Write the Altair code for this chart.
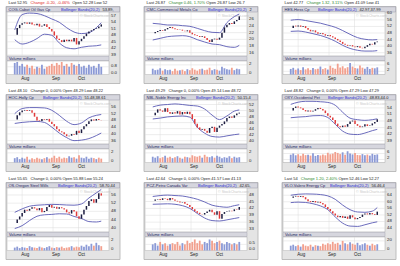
import altair as alt
import pandas as pd

FONT = "Liberation Sans"

# ---------------- header / title texts ----------------
names = ["COG-Cabot Oil Gas Cp", "CMC-Commercial Metals Co", "HES-Hess Cp",
         "HOC-Holly Cp", "NBL-Noble Energy Inc", "OXY-Occidental Pet",
         "OS-Oregon Steel Mills", "PCZ-Petro Canada Var", "VLO-Valero Energy Cp"]
last_px = ["52.95", "26.87", "42.77", "48.10", "49.29", "48.82", "55.65", "42.64", "54"]
change_abs = [-0.20, 0.46, 1.32, 0, 0, 0, 0, 0, 1.20]
change_pct = [-0.46, 1.70, 3.11, 0.00, 0.00, 0.00, 0.00, 0.00, 2.40]
open_px = ["52.28", "26.87", "41.09", "48.29", "49.14", "47.29", "55.88", "41.57", "52.46"]
low_px = ["52", "26.7", "41", "48.22", "48.72", "47.29", "55.24", "41.13", "52.27"]
bb_values = ["53.89,", "2", "42.97,37.99", "51.48,38.61", "50.15,4", "48.83,44.0",
             "58.70,44", "42.65,", "56.46,4"]

# ---------------- common x positions ----------------
day_idx = list(range(36))
band_idx = [0, 3, 6, 9, 12, 15, 18, 21, 24, 27, 30, 33, 35]
month_names = ["Aug", "Sep", "Oct"]
month_idx = [3.0, 15.5, 25.8]

# ---------------- COG ----------------
close_cog = [48.3, 51.3, 52.8, 53.5, 53.9, 53.3, 53.9, 53.0, 52.6, 53.3, 52.0, 52.4,
             53.1, 51.8, 50.9, 49.8, 47.9, 46.4, 45.8, 44.9, 46.0, 45.3, 46.0, 45.2,
             46.8, 43.8, 45.3, 46.4, 47.6, 48.8, 49.8, 50.3, 50.9, 51.2, 52.0, 53.0]
upper_cog = [50.5, 57.5, 58.2, 58.0, 57.0, 55.5, 54.0, 51.5, 49.5, 48.8, 49.2, 51.5, 53.8]
lower_cog = [46.0, 44.0, 44.8, 46.5, 48.5, 48.0, 44.5, 42.3, 41.8, 42.5, 43.0, 43.2, 43.6]
vol_cog = [1.2, 1.3, 0.9, 1.1, 0.8, 1.0, 0.7, 0.9, 0.6, 0.8, 0.7, 1.0, 0.6, 0.8, 0.9, 1.1,
           0.9, 1.2, 1.0, 1.3, 0.9, 1.1, 0.8, 1.2, 1.0, 0.9, 1.1, 0.8, 0.9, 0.7, 1.0, 0.8,
           0.9, 0.7, 1.1, 0.8]
ticks_cog = [39, 42, 45, 48, 51, 54, 57]
dom_cog = [38.5, 58.7]
vticks_cog = [0, 0.8]
vlabels_cog = ["0.0", "0.8"]
vdom_cog = [0, 1.4]

# ---------------- CMC ----------------
close_cmc = [21.8, 22.2, 22.5, 22.8, 22.6, 23.0, 23.4, 23.7, 23.3, 23.0, 22.8, 22.9,
             22.6, 22.4, 22.7, 22.0, 21.5, 21.2, 21.0, 20.7, 20.9, 20.4, 19.8, 19.2,
             20.0, 20.2, 19.9, 20.5, 22.0, 23.6, 24.4, 24.9, 24.6, 25.4, 25.8, 26.9]
upper_cmc = [24.8, 24.6, 24.3, 24.3, 24.1, 23.9, 23.3, 22.6, 22.1, 22.0, 25.0, 26.8, 27.6]
lower_cmc = [19.8, 20.3, 20.8, 21.0, 21.1, 20.8, 19.9, 19.2, 18.6, 18.4, 17.8, 17.6, 18.2]
vol_cmc = [1.2, 0.9, 1.0, 1.3, 0.8, 1.1, 0.9, 1.0, 0.7, 1.2, 0.8, 0.9, 1.0, 0.7, 1.1, 0.9,
           1.3, 1.0, 0.8, 1.1, 1.2, 0.9, 1.0, 1.4, 0.9, 1.1, 1.0, 0.8, 1.6, 1.3, 1.1, 1.0,
           1.4, 0.9, 1.2, 1.1]
ticks_cmc = [16, 18, 20, 22, 24, 26]
dom_cmc = [15.0, 28.2]
vticks_cmc = [0, 2]
vlabels_cmc = ["0", "2"]
vdom_cmc = [0, 2.8]

# ---------------- HES ----------------
close_hes = [51.0, 52.5, 52.0, 52.6, 51.8, 52.2, 51.0, 50.0, 49.0, 49.6, 48.4, 47.6,
             48.0, 47.3, 46.4, 46.8, 46.0, 45.2, 44.4, 43.5, 42.6, 41.4, 40.8, 40.2,
             40.6, 39.8, 39.4, 40.0, 39.0, 38.7, 39.6, 40.6, 41.4, 41.0, 42.4, 42.8]
upper_hes = [55.8, 56.2, 55.6, 54.8, 54.0, 52.8, 51.5, 49.5, 47.2, 45.2, 44.2, 43.8, 44.0]
lower_hes = [49.0, 49.2, 48.6, 47.6, 46.5, 45.0, 43.0, 40.5, 38.6, 37.5, 37.0, 37.0, 37.3]
vol_hes = [3.5, 4.2, 3.0, 3.8, 2.8, 4.5, 3.2, 3.9, 2.9, 4.1, 3.3, 3.6, 5.0, 3.4, 4.0, 3.1,
           5.5, 4.2, 3.6, 6.8, 4.4, 5.2, 3.9, 4.6, 7.2, 5.0, 4.1, 3.8, 5.6, 4.3, 3.6, 4.8,
           3.5, 4.2, 3.9, 4.5]
ticks_hes = [36, 40, 44, 48, 52, 56, 60]
dom_hes = [34.0, 60.8]
vticks_hes = [2, 6]
vlabels_hes = ["2", "6"]
vdom_hes = [0, 8.5]

# ---------------- HOC ----------------
close_hoc = [48.6, 51.0, 52.8, 53.8, 54.2, 53.6, 54.0, 52.5, 50.2, 48.0, 47.6, 48.8,
             48.4, 48.9, 47.2, 45.8, 44.5, 42.8, 41.5, 40.9, 39.8, 38.6, 38.9, 39.9,
             39.5, 41.8, 40.5, 42.7, 44.5, 45.8, 47.5, 48.6, 47.9, 48.8, 48.2, 48.1]
upper_hoc = [52.0, 55.0, 55.6, 55.6, 55.4, 54.0, 51.0, 47.5, 45.5, 46.5, 49.5, 51.0, 51.5]
lower_hoc = [46.2, 46.8, 47.2, 47.4, 46.8, 44.0, 40.5, 37.8, 36.0, 36.3, 37.2, 39.0, 40.5]
vol_hoc = [0.9, 1.1, 0.7, 1.0, 0.8, 1.2, 0.6, 0.9, 0.7, 1.0, 0.8, 0.7, 0.9, 1.1, 0.8, 1.0,
           1.4, 0.9, 1.2, 0.8, 1.0, 0.9, 1.3, 1.0, 1.1, 0.8, 1.5, 1.0, 0.9, 1.2, 0.8, 1.0,
           0.9, 0.7, 1.0, 0.8]
ticks_hoc = [36, 40, 44, 48, 52, 56]
dom_hoc = [34.0, 60.1]
vticks_hoc = [0, 2]
vlabels_hoc = ["0", "2"]
vdom_hoc = [0, 2.8]

# ---------------- NBL ----------------
close_nbl = [48.4, 49.3, 50.4, 50.0, 49.6, 50.8, 49.5, 48.9, 49.4, 49.0, 49.8, 48.7,
             49.5, 48.9, 49.6, 48.8, 47.2, 45.6, 44.4, 43.6, 43.9, 43.3, 42.6, 44.2,
             44.6, 42.9, 44.3, 45.0, 45.5, 46.4, 47.5, 48.0, 47.6, 48.4, 49.0, 49.3]
upper_nbl = [51.2, 51.8, 52.0, 52.2, 52.0, 51.7, 51.5, 50.5, 48.5, 47.0, 48.2, 49.8, 50.2]
lower_nbl = [47.2, 47.5, 47.9, 48.1, 48.2, 47.8, 44.5, 42.5, 41.4, 41.2, 41.6, 42.0, 42.2]
vol_nbl = [1.2, 1.0, 1.3, 0.9, 1.1, 1.4, 1.0, 1.2, 0.9, 1.1, 1.3, 1.0, 0.8, 1.2, 1.1, 1.0,
           1.5, 1.3, 1.2, 1.4, 1.0, 1.6, 1.2, 1.1, 1.3, 1.0, 1.4, 1.2, 0.9, 1.1, 1.0, 1.3,
           0.9, 1.2, 1.0, 1.1]
ticks_nbl = [40, 42, 44, 46, 48, 50, 52]
dom_nbl = [38.9, 53.5]
vticks_nbl = [0, 2]
vlabels_nbl = ["0", "2"]
vdom_nbl = [0, 2.8]

# ---------------- OXY ----------------
close_oxy = [52.8, 54.0, 54.6, 54.2, 53.8, 53.0, 52.4, 52.8, 52.3, 52.7, 53.4, 54.0,
             53.5, 52.8, 51.6, 50.4, 49.6, 48.5, 46.8, 45.6, 45.2, 45.9, 45.4, 46.6,
             47.8, 48.2, 46.6, 45.8, 45.2, 45.5, 46.5, 45.7, 46.0, 46.9, 47.6, 48.8]
upper_oxy = [55.6, 56.6, 57.0, 57.0, 56.8, 56.5, 55.2, 52.0, 49.3, 48.6, 48.3, 48.6, 49.0]
lower_oxy = [49.5, 49.8, 50.0, 50.4, 50.5, 49.6, 46.5, 43.4, 42.0, 41.8, 42.5, 43.6, 44.2]
vol_oxy = [5.2, 6.0, 4.8, 5.5, 4.5, 5.8, 4.9, 5.1, 4.6, 6.2, 4.4, 5.0, 4.7, 5.3, 4.8, 6.5,
           5.5, 5.9, 7.0, 6.4, 5.6, 6.8, 5.2, 7.5, 6.0, 5.4, 6.3, 5.0, 4.8, 5.6, 4.9, 5.3,
           4.6, 5.8, 5.1, 5.4]
ticks_oxy = [39, 42, 45, 48, 51, 54]
dom_oxy = [37.5, 57.6]
vticks_oxy = [2, 6]
vlabels_oxy = ["2", "6"]
vdom_oxy = [0, 9.0]

# ---------------- OS ----------------
close_os = [42.3, 44.0, 45.5, 47.2, 48.8, 48.3, 49.2, 50.0, 49.4, 48.5, 49.6, 47.6,
            48.2, 50.1, 51.1, 49.8, 50.2, 49.3, 50.0, 49.5, 48.9, 47.5, 46.9, 48.6,
            47.9, 45.6, 44.4, 46.5, 48.8, 50.6, 53.0, 53.9, 52.2, 54.0, 56.8, 55.7]
upper_os = [47.5, 49.2, 50.5, 51.0, 51.2, 51.4, 51.3, 51.1, 51.0, 51.6, 54.5, 57.0, 58.7]
lower_os = [39.6, 41.0, 43.5, 45.6, 46.3, 46.5, 46.8, 46.7, 45.5, 44.5, 43.0, 42.8, 43.2]
vol_os = [0.6, 0.8, 0.5, 0.7, 0.6, 0.5, 0.9, 0.7, 0.6, 0.5, 0.8, 0.6, 0.5, 0.7, 0.9, 0.6,
          0.5, 0.7, 0.6, 0.8, 0.5, 0.6, 0.7, 0.9, 0.6, 0.8, 0.7, 1.0, 0.8, 1.2, 0.9, 1.4,
          1.0, 1.6, 1.1, 0.9]
ticks_os = [40, 44, 48, 52, 56]
dom_os = [37.9, 59.4]
vticks_os = [0, 2]
vlabels_os = ["0", "2"]
vdom_os = [0, 2.8]

# ---------------- PCZ ----------------
close_pcz = [45.3, 45.9, 46.1, 45.7, 46.4, 46.2, 45.6, 46.5, 45.9, 45.3, 45.0, 44.6,
             44.8, 44.0, 43.5, 42.6, 41.6, 40.8, 40.1, 39.5, 39.3, 40.0, 40.6, 41.4,
             40.3, 39.2, 40.8, 37.5, 39.6, 40.4, 40.7, 41.0, 40.8, 41.6, 41.4, 42.6]
upper_pcz = [47.2, 47.6, 47.8, 47.6, 47.4, 46.8, 46.0, 44.8, 43.4, 42.8, 42.5, 43.2, 43.6]
lower_pcz = [43.8, 43.9, 44.0, 43.8, 43.2, 42.0, 39.8, 37.8, 36.7, 36.5, 37.0, 37.6, 38.0]
vol_pcz = [0.5, 0.6, 0.4, 0.7, 0.5, 0.6, 0.4, 0.5, 0.6, 0.5, 0.7, 0.4, 0.6, 0.5, 0.8, 0.6,
           0.7, 0.9, 0.6, 0.8, 0.5, 0.7, 0.6, 0.9, 0.8, 0.6, 0.7, 0.8, 0.6, 0.5, 0.7, 0.6,
           0.5, 0.6, 0.5, 0.7]
ticks_pcz = [33, 36, 39, 42, 45, 48]
dom_pcz = [31.7, 50.9]
vticks_pcz = [0, 0.5]
vlabels_pcz = ["0.0", "0.5"]
vdom_pcz = [0, 1.1]

# ---------------- VLO ----------------
close_vlo = [62.4, 63.2, 63.6, 63.0, 63.5, 62.8, 61.5, 60.4, 59.8, 60.5, 59.6, 60.0,
             59.2, 58.4, 56.8, 55.6, 54.3, 52.9, 51.6, 50.6, 51.4, 50.2, 51.0, 49.6,
             51.8, 50.5, 49.4, 50.1, 50.8, 52.2, 52.9, 52.3, 53.1, 52.4, 52.0, 54.0]
upper_vlo = [64.0, 64.6, 64.8, 64.7, 64.4, 63.6, 61.5, 58.0, 55.2, 53.8, 53.6, 54.3, 56.5]
lower_vlo = [59.5, 59.8, 59.6, 58.8, 57.5, 55.2, 50.8, 47.0, 45.2, 45.0, 46.0, 47.2, 47.8]
vol_vlo = [10, 12, 9, 11, 8, 13, 10, 9, 12, 8, 11, 10, 9, 14, 12, 15, 13, 18, 14, 16,
           12, 20, 15, 13, 17, 14, 12, 16, 11, 13, 15, 12, 10, 14, 11, 13]
ticks_vlo = [44, 48, 52, 56, 60, 64]
dom_vlo = [41.6, 68.4]
vticks_vlo = [0, 20]
vlabels_vlo = ["0", "20"]
vdom_vlo = [0, 28]

series = [
    (close_cog, upper_cog, lower_cog, vol_cog, ticks_cog, dom_cog, vticks_cog, vlabels_cog, vdom_cog),
    (close_cmc, upper_cmc, lower_cmc, vol_cmc, ticks_cmc, dom_cmc, vticks_cmc, vlabels_cmc, vdom_cmc),
    (close_hes, upper_hes, lower_hes, vol_hes, ticks_hes, dom_hes, vticks_hes, vlabels_hes, vdom_hes),
    (close_hoc, upper_hoc, lower_hoc, vol_hoc, ticks_hoc, dom_hoc, vticks_hoc, vlabels_hoc, vdom_hoc),
    (close_nbl, upper_nbl, lower_nbl, vol_nbl, ticks_nbl, dom_nbl, vticks_nbl, vlabels_nbl, vdom_nbl),
    (close_oxy, upper_oxy, lower_oxy, vol_oxy, ticks_oxy, dom_oxy, vticks_oxy, vlabels_oxy, vdom_oxy),
    (close_os, upper_os, lower_os, vol_os, ticks_os, dom_os, vticks_os, vlabels_os, vdom_os),
    (close_pcz, upper_pcz, lower_pcz, vol_pcz, ticks_pcz, dom_pcz, vticks_pcz, vlabels_pcz, vdom_pcz),
    (close_vlo, upper_vlo, lower_vlo, vol_vlo, ticks_vlo, dom_vlo, vticks_vlo, vlabels_vlo, vdom_vlo),
]

# ---------------- layout / style ----------------
W, H = 114, 84
PLOT_X0, PLOT_X1 = 1, 103
DATA_X = [2.5, 101.5]
PY_TOP, PY_BOT = 12, 56
VY_TOP, VY_BOT = 61, 74.5
BB_X = [55, 64, 36, 37, 52, 46, 52, 54, 48]

FRAME_FILL, FRAME_STROKE = "#e4e4e4", "#b0b0b0"
BAR_FILL, BAR_STROKE = "#d6d6de", "#9a9aa8"
GRID = "#dadada"
BAND = "#5a5ab4"
C_UP, C_DOWN = "#1c1c40", "#e03a3a"
V_UP, V_DOWN = "#8c9ad6", "#f2a08e"
TXT = "#222222"
T_NAME = "#1c1c60"
T_BB = "#2b2bd0"
T_POS, T_NEG = "#2f8a2f", "#e02828"
CW, GAP = 1.95, 2.6

one = pd.DataFrame({"a": [0]})


def box(x, x2, y, y2, fill, stroke=None, sw=0.6):
    kw = {"fill": fill}
    if stroke:
        kw.update(stroke=stroke, strokeWidth=sw)
    return alt.Chart(one).mark_rect(**kw).encode(
        x=alt.value(x), x2=alt.value(x2), y=alt.value(y), y2=alt.value(y2))


def text_at(t, x, y, color, size=4.0):
    return alt.Chart(one).mark_text(text=t, align="left", baseline="middle", fontSize=size,
                                    color=color, font=FONT).encode(x=alt.value(x), y=alt.value(y))


def panel(k):
    close, upper, lower, vol, pticks, pdom, vticks, vlabels, vdom = series[k]
    opens = [close[0]] + close[:-1]
    df = pd.DataFrame({"i": day_idx, "open": opens, "close": close, "vol": vol})
    df["dir"] = ["up" if c >= o else "down" for o, c in zip(opens, close)]
    bands = pd.DataFrame({"i": band_idx + band_idx, "v": upper + lower,
                          "band": ["upper"] * len(upper) + ["lower"] * len(lower)})
    ptk = pd.DataFrame({"t": pticks, "label": [str(t) for t in pticks]})
    vtk = pd.DataFrame({"t": vticks, "label": vlabels})
    months = pd.DataFrame({"i": month_idx, "m": month_names})

    X = alt.X("i:Q", scale=alt.Scale(domain=[-0.5, 35.5], range=DATA_X, nice=False, zero=False), axis=None)

    def PY(f):
        return alt.Y(f"{f}:Q", scale=alt.Scale(domain=pdom, range=[PY_BOT, PY_TOP], nice=False, zero=False), axis=None)

    def VY(f):
        return alt.Y(f"{f}:Q", scale=alt.Scale(domain=vdom, range=[VY_BOT, VY_TOP], nice=False, zero=False), axis=None)

    layers = []
    layers.append(box(0, W, 6.5, 83.5, FRAME_FILL, FRAME_STROKE, 0.8))
    layers.append(box(0.5, W - 0.5, 6.8, 12, BAR_FILL, BAR_STROKE, 0.5))
    layers.append(box(PLOT_X0, PLOT_X1, PY_TOP, PY_BOT, "white", "#a8a8a8", 0.5))
    layers.append(box(PLOT_X0, PLOT_X1, PY_BOT + 0.3, VY_TOP - 0.3, BAR_FILL, BAR_STROKE, 0.4))
    layers.append(box(PLOT_X0, PLOT_X1, VY_TOP, VY_BOT, "white", "#a8a8a8", 0.5))

    layers.append(alt.Chart(ptk).mark_rule(color=GRID, strokeWidth=0.5).encode(
        x=alt.value(PLOT_X0), x2=alt.value(PLOT_X1), y=PY("t")))
    layers.append(alt.Chart(vtk).mark_rule(color=GRID, strokeWidth=0.5).encode(
        x=alt.value(PLOT_X0), x2=alt.value(PLOT_X1), y=VY("t")))
    layers.append(alt.Chart(months).mark_rule(color=GRID, strokeWidth=0.5).encode(
        x=X, y=alt.value(PY_TOP), y2=alt.value(PY_BOT)))
    layers.append(alt.Chart(months).mark_rule(color=GRID, strokeWidth=0.5).encode(
        x=X, y=alt.value(VY_TOP), y2=alt.value(VY_BOT)))

    layers.append(text_at("\u00a9 StockCharts.com", 74, 15.5, "#c8c8c8", 3.6))

    layers.append(alt.Chart(bands).mark_line(color=BAND, strokeWidth=0.9, interpolate="monotone").encode(
        x=X, y=PY("v"), detail="band:N"))

    layers.append(alt.Chart(df).mark_rule(strokeWidth=1.5).encode(
        x=X, y=PY("open"), y2="close:Q",
        color=alt.Color("dir:N", scale=alt.Scale(domain=["up", "down"], range=[C_UP, C_DOWN]), legend=None)))

    layers.append(alt.Chart(df).mark_bar(size=1.8).encode(
        x=X, y=VY("vol"),
        color=alt.Color("dir:N", scale=alt.Scale(domain=["up", "down"], range=[V_UP, V_DOWN]), legend=None)))

    layers.append(alt.Chart(ptk).mark_text(align="left", baseline="middle", fontSize=4.3, color=TXT, font=FONT).encode(
        x=alt.value(PLOT_X1 + 2), y=PY("t"), text="label:N"))
    layers.append(alt.Chart(vtk).mark_text(align="left", baseline="middle", fontSize=4.3, color=TXT, font=FONT, dy=-1.2).encode(
        x=alt.value(PLOT_X1 + 2), y=VY("t"), text="label:N"))
    layers.append(alt.Chart(months).mark_text(align="center", baseline="middle", fontSize=4.5, color=TXT, font=FONT, dx=3).encode(
        x=X, y=alt.value(78.8), text="m:N"))

    layers.append(text_at(names[k], 2.5, 9.5, T_NAME))
    layers.append(text_at("Bollinger Bands(20,2)", BB_X[k], 9.5, T_BB))
    layers.append(text_at(bb_values[k], BB_X[k] + 41.5, 9.5, TXT))
    layers.append(text_at("Volume  millions", 3, 58.7, T_NAME, 3.8))

    a, p = change_abs[k], change_pct[k]
    a_txt = "0" if a == 0 else f"{a:.2f}"
    segs = [(f"Last {last_px[k]}", TXT),
            (f"Change {a_txt}, {p:.2f}%", T_NEG if a < 0 else (T_POS if a > 0 else TXT)),
            (f"Open {open_px[k]}", TXT),
            (f"Low {low_px[k]}", TXT)]
    x = 2.5
    for s, c in segs:
        layers.append(text_at(s, x, 3.2, c))
        x += len(s) * CW + GAP

    return alt.layer(*layers).resolve_scale(y="independent", color="independent").properties(width=W, height=H)


panels = [panel(k) for k in range(9)]
chart = alt.concat(*panels, columns=3, spacing={"row": 4, "column": 24}, bounds="flush").properties(
    padding={"left": 5, "top": 0, "right": 0, "bottom": 0}, background="white"
).configure_view(strokeWidth=0)

chart.save("out.html", embed_options={"renderer": "svg", "actions": False})
